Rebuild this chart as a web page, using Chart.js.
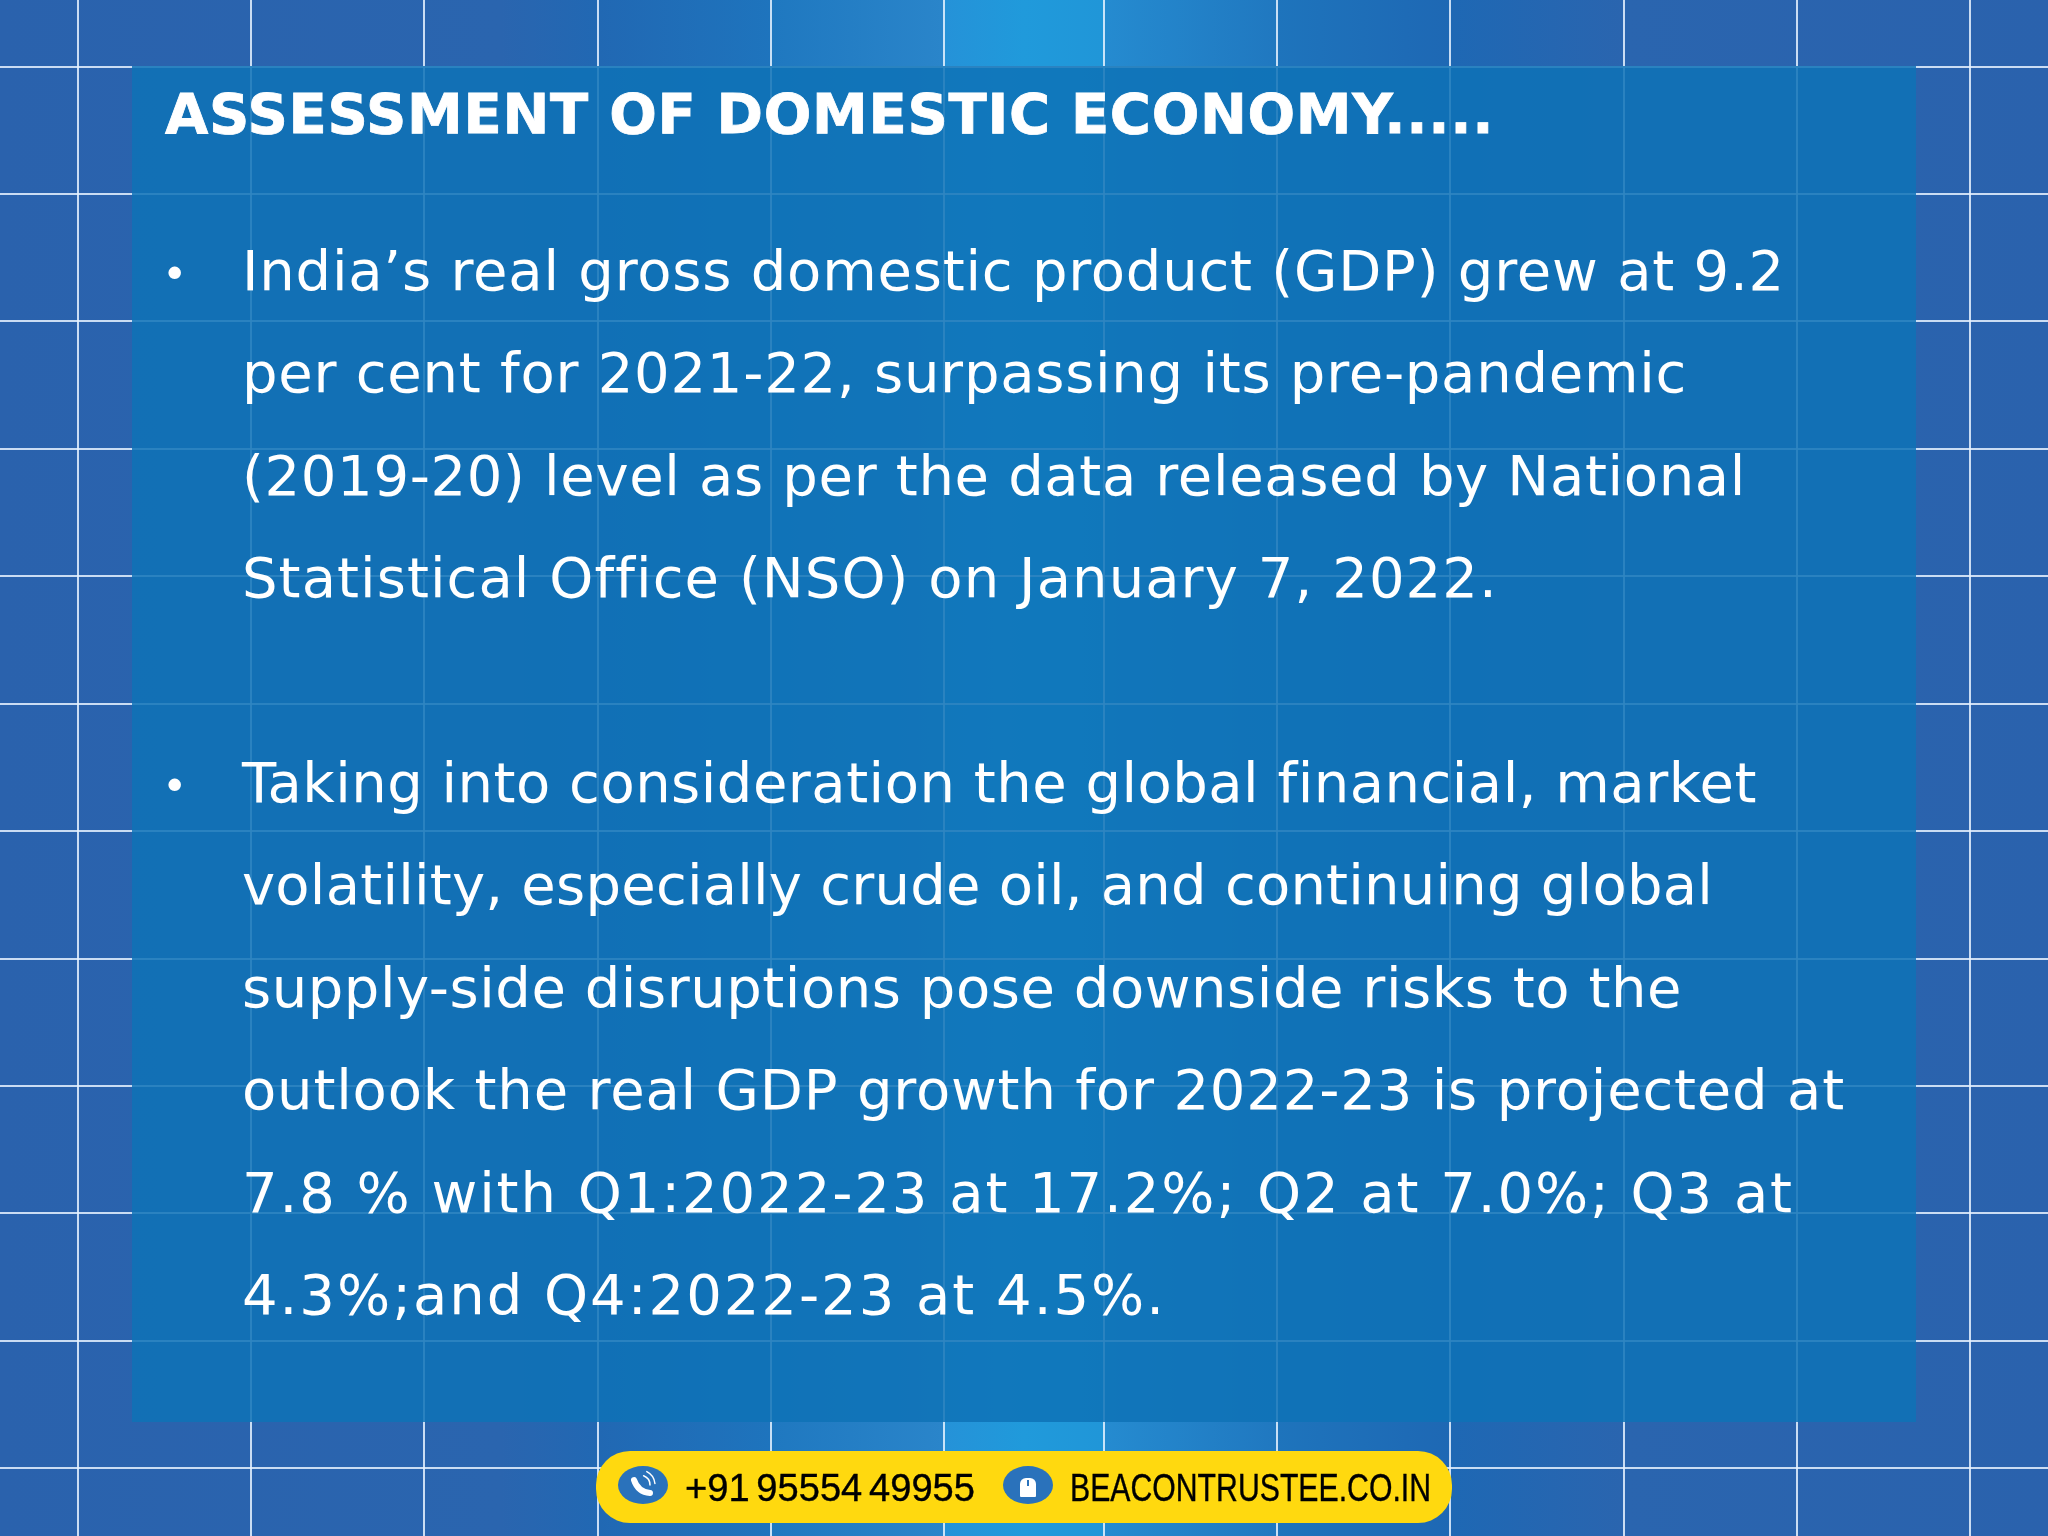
<!DOCTYPE html>
<html>
<head>
<meta charset="utf-8">
<style>
  html, body { margin: 0; padding: 0; background: #2a63ad; }
  #wrap { position: relative; width: 2048px; height: 1536px; overflow: hidden; }
  #slide { position: absolute; left: 0; top: 0; }
  .line { position: absolute; left: 242px; color: #fff; white-space: pre; font-variant-ligatures: none; font: 56px/64px "DejaVu Sans"; }
  .bullet { position: absolute; left: 162px; color: #fff; font: 43px/64px "DejaVu Sans"; }
  #heading { position: absolute; left: 165px; top: 78px; color: #fff; white-space: pre; letter-spacing: 0.7px; -webkit-text-stroke: 0.8px #fff; font: bold 56px/72px "DejaVu Sans"; }
  .foot { position: absolute; top: 1468px; color: #000; white-space: pre; word-spacing: -4px; -webkit-text-stroke: 0.4px #000; font: 39px/40px "Liberation Sans"; transform-origin: 0 50%; }
</style>
</head>
<body>
<div id="wrap">
  <canvas id="slide" width="2048" height="1536"></canvas>
  <div id="heading"></div>
  <div id="body"></div>
  <div class="foot" id="phone" style="left:685px"></div>
  <div class="foot" id="site" style="left:1070px"></div>
</div>
<script src="https://cdn.jsdelivr.net/npm/chart.js@4/dist/chart.umd.min.js"></script>
<script>
var headingText = 'ASSESSMENT OF DOMESTIC ECONOMY.....';
var firstPoint = [
    'India’s real gross domestic product (GDP) grew at 9.2',
    'per cent for 2021-22, surpassing its pre-pandemic',
    '(2019-20) level as per the data released by National',
    'Statistical Office (NSO) on January 7, 2022.'
];
var secondPoint = [
    'Taking into consideration the global financial, market',
    'volatility, especially crude oil, and continuing global',
    'supply-side disruptions pose downside risks to the',
    'outlook the real GDP growth for 2022-23 is projected at',
    '7.8 % with Q1:2022-23 at 17.2%; Q2 at 7.0%; Q3 at',
    '4.3%;and Q4:2022-23 at 4.5%.'
];
var phoneText = '+91 95554 49955';
var siteText = 'BEACONTRUSTEE.CO.IN';

// grid of the slide background
var gridColumns = [78, 251, 424, 598, 771, 944, 1104, 1277, 1450, 1624, 1797, 1970];
var gridRows = [67, 194, 321, 449, 576, 704, 831, 959, 1086, 1213, 1341, 1468];

// how wide each text line runs in the picture (DejaVu differs a bit from the original face)
var firstWidths = [1543, 1445, 1504, 1255];
var secondWidths = [1515, 1471, 1440, 1603, 1552, 924];

// text goes on top of the canvas as normal page text
document.getElementById('heading').textContent = headingText;

function fitFooter(id, text, width) {
    var el = document.getElementById(id);
    el.textContent = text;
    el.style.transform = 'scaleX(' + (width / el.getBoundingClientRect().width) + ')';
}
fitFooter('phone', phoneText, 290);
fitFooter('site', siteText, 361);

var bodyBox = document.getElementById('body');
function addPoint(lines, widths, top) {
    var bullet = document.createElement('div');
    bullet.className = 'bullet';
    bullet.style.top = (top + 3) + 'px';
    bullet.textContent = '•';
    bodyBox.appendChild(bullet);
    lines.forEach(function (text, i) {
        var el = document.createElement('div');
        el.className = 'line';
        el.style.top = (top + i * 102.4) + 'px';
        el.textContent = text;
        bodyBox.appendChild(el);
        var spare = widths[i] - el.getBoundingClientRect().width;
        el.style.letterSpacing = (spare / text.length) + 'px';
    });
}
addPoint(firstPoint, firstWidths, 239);
addPoint(secondPoint, secondWidths, 751);

function roundBox(ctx, x, y, w, h, r) {
    ctx.beginPath();
    ctx.roundRect(x, y, w, h, r);
    ctx.fill();
}

var slideBackground = {
    id: 'slideBackground',
    beforeDraw: function (chart) {
        var ctx = chart.ctx;
        var g = ctx.createLinearGradient(0, 0, 2048, 0);
        // the middle cells of the backdrop step in brightness at the grid lines
        g.addColorStop(0, '#2a62ad');
        g.addColorStop(500 / 2048, '#2a65af');
        g.addColorStop(598 / 2048, '#2168b3');
        g.addColorStop(770 / 2048, '#1e74bd');
        g.addColorStop(771 / 2048, '#1f78c0');
        g.addColorStop(943 / 2048, '#2a85ca');
        g.addColorStop(944 / 2048, '#2592d8');
        g.addColorStop(1024 / 2048, '#209adb');
        g.addColorStop(1103 / 2048, '#2096d8');
        g.addColorStop(1104 / 2048, '#258bd0');
        g.addColorStop(1276 / 2048, '#2078c0');
        g.addColorStop(1277 / 2048, '#1e74bc');
        g.addColorStop(1450 / 2048, '#1e68b4');
        g.addColorStop(1624 / 2048, '#2a65af');
        g.addColorStop(1, '#2a62ad');
        ctx.fillStyle = g;
        ctx.fillRect(0, 0, 2048, 1536);
    },
    // after the grid, so the lines show faintly through the panel
    beforeDatasetsDraw: function (chart) {
        var ctx = chart.ctx;
        ctx.save();
        ctx.fillStyle = 'rgba(14, 114, 182, 0.85)';
        ctx.fillRect(chart.scales.x.getPixelForValue(132), chart.scales.y.getPixelForValue(66),
            1784, 1356);

        // yellow contact strip
        ctx.fillStyle = '#ffd90f';
        roundBox(ctx, 596, 1451, 856, 72, 34);
        ctx.fillStyle = '#2a72bb';
        [643, 1028].forEach(function (cx) {
            ctx.beginPath();
            ctx.ellipse(cx, 1485, 25, 19, 0, 0, Math.PI * 2);
            ctx.fill();
        });

        // phone icon
        ctx.strokeStyle = '#fff';
        ctx.lineWidth = 6;
        ctx.lineCap = 'round';
        ctx.beginPath();
        ctx.moveTo(634, 1480);
        ctx.quadraticCurveTo(638, 1492, 650, 1493);
        ctx.stroke();
        ctx.lineWidth = 1.5;
        ctx.beginPath();
        ctx.arc(640, 1485, 10, -1.2, 0);
        ctx.stroke();
        ctx.beginPath();
        ctx.arc(640, 1485, 15, -1.1, -0.1);
        ctx.stroke();

        // mouse icon
        ctx.fillStyle = '#fff';
        roundBox(ctx, 1020, 1478, 16, 19, [6, 6, 1, 1]);
        ctx.fillStyle = '#2a72bb';
        ctx.fillRect(1027, 1480, 2, 6);
        ctx.restore();
    }
};

new Chart(document.getElementById('slide').getContext('2d'), {
    type: 'scatter',
    data: { datasets: [{ data: [] }] },
    plugins: [slideBackground],
    options: {
        responsive: false,
        animation: false,
        layout: { padding: 0 },
        plugins: { legend: { display: false }, tooltip: { enabled: false } },
        scales: {
            x: {
                min: 0,
                max: 2048,
                afterBuildTicks: function (axis) {
                    axis.ticks = gridColumns.map(function (v) { return { value: v }; });
                },
                ticks: { display: false },
                border: { display: false },
                grid: { color: 'rgba(230, 242, 255, 0.85)', lineWidth: 2, drawTicks: false }
            },
            y: {
                reverse: true,
                min: 0,
                max: 1536,
                afterBuildTicks: function (axis) {
                    axis.ticks = gridRows.map(function (v) { return { value: v }; });
                },
                ticks: { display: false },
                border: { display: false },
                grid: { color: 'rgba(230, 242, 255, 0.85)', lineWidth: 2, drawTicks: false }
            }
        }
    }
});
</script>
</body>
</html>
